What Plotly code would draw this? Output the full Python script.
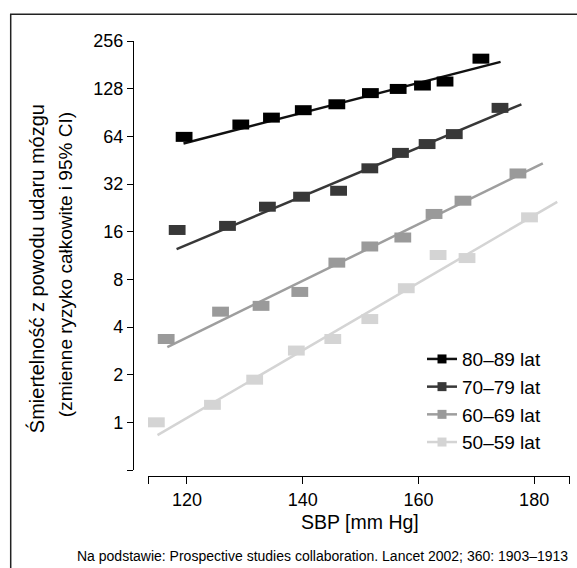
import math
import plotly.graph_objects as go

# ---- data ----
series_names = ["80–89 lat", "70–79 lat", "60–69 lat", "50–59 lat"]

sbp_80 = [119.5, 129.3, 134.6, 140.1, 145.9, 151.7, 156.5, 160.7, 164.6, 170.8]
rate_80 = [63.5, 76, 84, 93.6, 102, 120, 127.5, 134, 142, 198]
fit_x_80 = [119.4, 174.2]
fit_y_80 = [57.7, 189]

sbp_70 = [118.3, 127.0, 133.9, 139.8, 146.2, 151.6, 156.9, 161.5, 166.2, 174.1]
rate_70 = [16.4, 17.4, 23, 26.6, 29, 40.2, 50.3, 57.2, 66.1, 96.8]
fit_x_70 = [118.2, 177.8]
fit_y_70 = [12.4, 102]

sbp_60 = [116.4, 125.8, 132.8, 139.5, 145.9, 151.6, 157.3, 162.7, 167.7, 177.2]
rate_60 = [3.36, 5.0, 5.44, 6.66, 10.2, 12.9, 14.7, 20.7, 25.1, 37.3]
fit_x_60 = [116.6, 181.5]
fit_y_60 = [2.99, 43.2]

sbp_50 = [114.7, 124.4, 131.7, 138.9, 145.2, 151.6, 157.9, 163.4, 168.4, 179.2]
rate_50 = [1.0, 1.29, 1.86, 2.84, 3.36, 4.49, 7.03, 11.4, 10.9, 19.7]
fit_x_50 = [114.9, 184.0]
fit_y_50 = [0.83, 24.7]

x_tick_vals = [113.3, 120, 140, 160, 180, 186.15]
x_tick_text = ["", "120", "140", "160", "180", ""]
y_tick_vals = [0.5, 1, 2, 4, 8, 16, 32, 64, 128, 256]
y_tick_text = ["", "1", "2", "4", "8", "16", "32", "64", "128", "256"]

# ---- styling ----
FONT = "Liberation Sans, Arial, sans-serif"
marker_colors = ["#000000", "#383838", "#9a9a9a", "#d4d4d4"]
line_colors = ["#111111", "#383838", "#9e9e9e", "#d4d4d4"]

groups = [
    (sbp_80, rate_80, fit_x_80, fit_y_80),
    (sbp_70, rate_70, fit_x_70, fit_y_70),
    (sbp_60, rate_60, fit_x_60, fit_y_60),
    (sbp_50, rate_50, fit_x_50, fit_y_50),
]

fig = go.Figure()

# regression lines first, then markers on top
for i, (xs, ys, fx, fy) in enumerate(groups):
    fig.add_trace(go.Scatter(x=fx, y=fy, mode="lines",
                             line=dict(color=line_colors[i], width=2.5),
                             showlegend=False, hoverinfo="skip"))
for i, (xs, ys, fx, fy) in enumerate(groups):
    fig.add_trace(go.Scatter(x=xs, y=ys, mode="markers", name=series_names[i],
                             marker=dict(symbol="line-ew", size=12, color=marker_colors[i],
                                         line=dict(width=10, color=marker_colors[i])),
                             showlegend=False))
# legend entries
for i in range(4):
    fig.add_trace(go.Scatter(x=[None], y=[None], mode="lines+markers", name=series_names[i],
                             legendgroup=f"g{i}",
                             line=dict(color=line_colors[i], width=2.5),
                             marker=dict(symbol="square", size=9, color=marker_colors[i],
                                         line=dict(width=0))))

L, R, T, B = 133, 7, 40.7, 92
W, H = 577, 568
pw = W - L - R
ph = H - T - B

def px_x(p):
    return (p - L) / pw

def px_y(p):
    return (H - B - p) / ph

fig.update_layout(
    width=W, height=H,
    margin=dict(l=L, r=R, t=T, b=B),
    plot_bgcolor="white", paper_bgcolor="white",
    font=dict(family=FONT, size=18, color="black"),
    showlegend=True,
    legend=dict(x=px_x(422), y=px_y(340), xanchor="left", yanchor="top",
                font=dict(size=19), tracegroupgap=0, bgcolor="rgba(0,0,0,0)"),
    xaxis=dict(domain=[px_x(148), 1], range=[113.26, 186.2],
               tickvals=x_tick_vals, ticktext=x_tick_text,
               ticks="outside", ticklen=7, tickwidth=1.3, tickcolor="black",
               showline=True, linecolor="black", linewidth=1.3,
               showgrid=False, zeroline=False, anchor="free", position=0,
               tickfont=dict(size=18)),
    yaxis=dict(domain=[px_y(470), 1], type="log",
               range=[math.log10(0.5), math.log10(256)],
               tickvals=y_tick_vals, ticktext=y_tick_text,
               ticks="outside", ticklen=6, tickwidth=1.3, tickcolor="black",
               showline=True, linecolor="black", linewidth=1.3,
               showgrid=False, zeroline=False, anchor="free", position=0,
               tickfont=dict(size=18)),
    shapes=[dict(type="rect", xref="paper", yref="paper",
                 x0=px_x(10.7), x1=1.06, y0=-0.26, y1=px_y(14),
                 line=dict(color="#222222", width=1.5), fillcolor="rgba(0,0,0,0)", layer="below")],
    annotations=[
        dict(text="SBP [mm Hg]", xref="paper", yref="paper", x=px_x(360), y=px_y(522),
             xanchor="center", yanchor="middle", showarrow=False, font=dict(size=19.5)),
        dict(text="Na podstawie: Prospective studies collaboration. Lancet 2002; 360: 1903–1913",
             xref="paper", yref="paper", x=px_x(322), y=px_y(556),
             xanchor="center", yanchor="middle", showarrow=False, font=dict(size=14)),
        dict(text="Śmiertelność z powodu udaru mózgu", xref="paper", yref="paper",
             x=px_x(36), y=px_y(269), xanchor="center", yanchor="middle",
             textangle=-90, showarrow=False, font=dict(size=20)),
        dict(text="(zmienne ryzyko całkowite i 95% CI)", xref="paper", yref="paper",
             x=px_x(65), y=px_y(265), xanchor="center", yanchor="middle",
             textangle=-90, showarrow=False, font=dict(size=19)),
    ],
)

fig.write_html("out.html", config={"displayModeBar": False},
               post_script="document.body.style.margin='0';document.body.style.padding='0';")
